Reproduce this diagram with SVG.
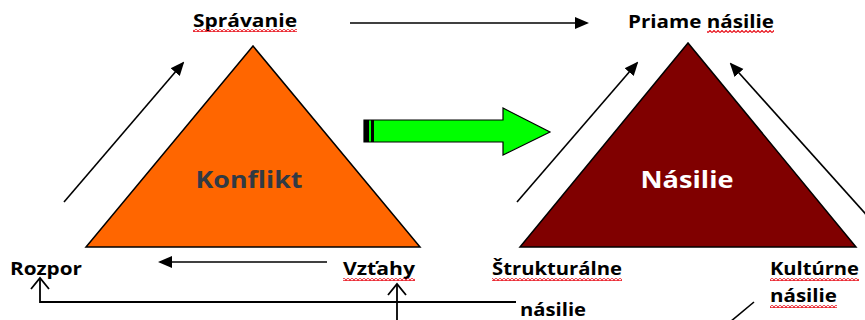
<svg xmlns="http://www.w3.org/2000/svg" width="865" height="320" viewBox="0 0 865 320">
<style>
.lbl{font-family:"Open Sans","Liberation Sans",sans-serif;font-weight:bold;font-size:18px;fill:#000}
.big{font-family:"Open Sans","Liberation Sans",sans-serif;font-weight:bold;font-size:23px}
.ln{stroke:#000;stroke-width:1.6;fill:none}
.open{stroke:#000;stroke-width:1.8;fill:none}
.wavy{fill:url(#wavy)}
</style>
<defs>
<marker id="ahBig" markerWidth="14" markerHeight="14" refX="12" refY="7" orient="auto" markerUnits="userSpaceOnUse" viewBox="0 0 14 14">
<path d="M0,1 L14,7 L0,13 Z" fill="#000"/>
</marker>
<pattern id="wavy" width="4" height="3" patternUnits="userSpaceOnUse">
<path d="M0,2.5 L2,0.5 L4,2.5" stroke="#e8101a" stroke-width="1.2" fill="none"/>
</pattern>
</defs>
<rect width="865" height="320" fill="#fff"/>

<g id="konflikt">
<polygon points="253,46 86,247 420,247" fill="#ff6600" stroke="#000" stroke-width="1.5"/>
<text class="big" x="249" y="188" text-anchor="middle" fill="#313a44" textLength="107" lengthAdjust="spacingAndGlyphs">Konflikt</text>
</g>

<g id="nasilie">
<polygon points="688,43 520,247 856,247" fill="#800000" stroke="#000" stroke-width="1.5"/>
<text class="big" x="687" y="188" text-anchor="middle" fill="#fff" textLength="93" lengthAdjust="spacingAndGlyphs">Násilie</text>
</g>

<g id="transition-arrow">
<polygon points="364,120 503,120 503,108 550,132 503,155 503,142 364,142" fill="#00ff00" stroke="#000" stroke-width="1.2"/>
<rect x="364" y="120" width="5" height="22" fill="#000"/>
<rect x="371" y="120" width="3" height="22" fill="#000"/>
</g>

<g id="spravanie">
<text class="lbl" x="193" y="27" textLength="104" lengthAdjust="spacingAndGlyphs">Správanie</text>
<rect class="wavy" x="193" y="29" width="104" height="3"/>
</g>
<g id="rozpor">
<text class="lbl" x="10" y="275" textLength="72" lengthAdjust="spacingAndGlyphs">Rozpor</text>
</g>
<g id="vztahy">
<text class="lbl" x="343" y="275" textLength="72" lengthAdjust="spacingAndGlyphs">Vzťahy</text>
<rect class="wavy" x="343" y="278" width="72" height="3"/>
</g>
<g id="priame-nasilie">
<text class="lbl" x="628" y="28" textLength="146" lengthAdjust="spacingAndGlyphs">Priame násilie</text>
<rect class="wavy" x="707" y="30" width="67" height="3"/>
</g>
<g id="strukturalne-nasilie">
<text class="lbl" x="492" y="275" textLength="130" lengthAdjust="spacingAndGlyphs">Štrukturálne</text>
<rect class="wavy" x="492" y="278" width="130" height="3"/>
<text class="lbl" x="520" y="316" textLength="66" lengthAdjust="spacingAndGlyphs">násilie</text>
</g>
<g id="kulturne-nasilie">
<text class="lbl" x="770" y="275" textLength="89" lengthAdjust="spacingAndGlyphs">Kultúrne</text>
<rect class="wavy" x="770" y="278" width="89" height="3"/>
<text class="lbl" x="770" y="302" textLength="67" lengthAdjust="spacingAndGlyphs">násilie</text>
<rect class="wavy" x="770" y="305" width="67" height="3"/>
</g>

<g id="connectors">
<line class="ln" x1="64" y1="202" x2="183" y2="63" marker-end="url(#ahBig)"/>
<line class="ln" x1="350" y1="23" x2="587" y2="23" marker-end="url(#ahBig)"/>
<line class="ln" x1="327" y1="262" x2="160" y2="262" marker-end="url(#ahBig)"/>
<line class="ln" x1="517" y1="202" x2="637" y2="63" marker-end="url(#ahBig)"/>
<line class="ln" x1="872" y1="221" x2="731" y2="64" marker-end="url(#ahBig)"/>
<polyline class="open" points="516,302 40,302 40,278"/>
<polyline class="open" points="31,289 40,278 49,289"/>
<line class="open" x1="397" y1="320" x2="397" y2="284"/>
<polyline class="open" points="388,295 397,284 406,295"/>
<line class="ln" x1="754" y1="302" x2="730" y2="322"/>
</g>
</svg>
